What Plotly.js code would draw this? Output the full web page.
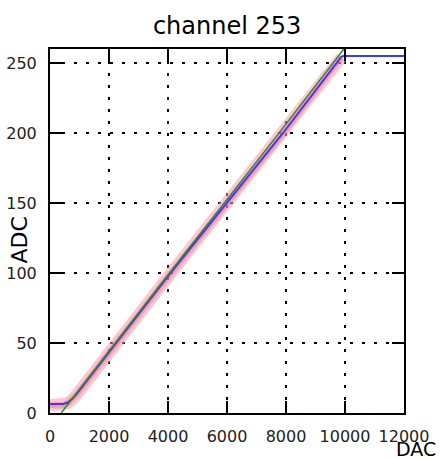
<!DOCTYPE html>
<html>
<head>
<meta charset="utf-8">
<script src="https://cdn.plot.ly/plotly-3.0.1.min.js"></script>
<style>html,body{margin:0;padding:0;background:#fff;}</style>
</head>
<body>
<div id="chart" style="width:441px;height:459px;"></div>
<script>
// Measured data (blue), band of other curves (pink), linear fit (green)
const blueDAC  = [0, 450, 600, 750, 900, 4050, 7900, 9700, 9880, 9950, 12000];
const blueADC  = [6.5, 6.5, 7.5, 10, 13.5, 99, 200, 250, 254.5, 255, 255];
const pinkDAC  = [0, 450, 600, 750, 900, 4050, 7900, 9700, 9880];
const pinkADC  = [5.5, 5.5, 7, 9.5, 13, 98.5, 199.5, 249.5, 254];
const greenDAC = [380, 4050, 7800, 9960];
const greenADC = [0, 100, 201, 260];
const xTicks = [0, 2000, 4000, 6000, 8000, 10000, 12000];
const yTicks = [0, 50, 100, 150, 200, 250];

const FONT = "'DejaVu Sans', sans-serif";

const traces = [
  {x: pinkDAC, y: pinkADC, mode: 'lines', line: {color: 'rgba(255,150,170,0.55)', width: 12}, hoverinfo: 'skip', showlegend: false},
  {x: pinkDAC, y: pinkADC, mode: 'lines', line: {color: 'rgba(240,110,130,0.45)', width: 6}, hoverinfo: 'skip', showlegend: false},
  {x: blueDAC, y: blueADC, mode: 'lines', line: {color: '#3a3aff', width: 2}, showlegend: false},
  {x: greenDAC, y: greenADC, mode: 'lines', line: {color: '#2e8b22', width: 1.5}, showlegend: false}
];

const axisCommon = {
  ticks: 'inside', ticklen: 12, tickwidth: 1.5, tickcolor: '#000',
  showline: true, linewidth: 2, linecolor: '#000', mirror: 'ticks',
  showgrid: true, gridcolor: '#000', gridwidth: 1.5, griddash: '3px,9px',
  zeroline: false, tickfont: {family: FONT, size: 16, color: '#222'},
  fixedrange: true
};

const layout = {
  width: 441, height: 459,
  margin: {l: 50, r: 37, t: 49, b: 46, pad: 0},
  paper_bgcolor: '#fff', plot_bgcolor: '#fff',
  title: {text: 'channel 253', font: {family: FONT, size: 24, color: '#000'},
          x: 0.515, xanchor: 'center', y: 0.945, yanchor: 'middle', xref: 'container', yref: 'container'},
  xaxis: Object.assign({}, axisCommon, {range: [0, 12000], tickvals: xTicks, ticktext: xTicks.map(String), ticklabelstandoff: 8}),
  yaxis: Object.assign({}, axisCommon, {range: [0, 260], tickvals: yTicks, ticktext: yTicks.map(String), ticklabelstandoff: 8}),
  annotations: [
    {text: 'ADC', xref: 'paper', yref: 'paper', x: -0.085, y: 0.4766, xanchor: 'center', yanchor: 'middle',
     textangle: -90, showarrow: false, font: {family: FONT, size: 22, color: '#000'}},
    {text: 'DAC', xref: 'paper', yref: 'paper', x: 1.0339, y: -0.098, xanchor: 'center', yanchor: 'middle',
     showarrow: false, font: {family: FONT, size: 19, color: '#000'}}
  ]
};

Plotly.newPlot('chart', traces, layout, {displayModeBar: false, staticPlot: true});
</script>
</body>
</html>
